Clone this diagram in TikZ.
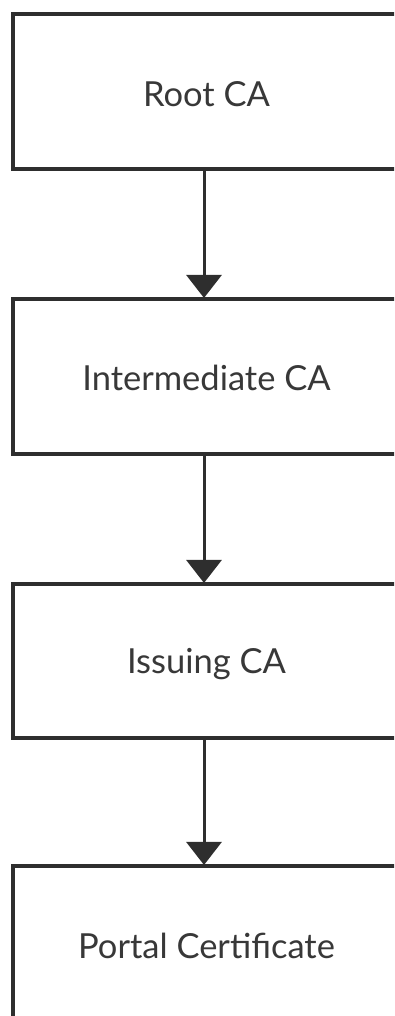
\documentclass[tikz,border=0pt]{standalone}
\usepackage{fontspec}
\setmainfont{Lato}
\usetikzlibrary{arrows.meta}
\definecolor{ink}{HTML}{2E2E2E}
\definecolor{txt}{HTML}{383838}
\tikzset{
  box/.style={draw=ink, line width=4pt, fill=white, rectangle},
  lbl/.style={text=txt, font=\fontsize{34.5}{40}\selectfont, inner sep=0pt},
  conn/.style={draw=ink, line width=3pt, -{Triangle[width=35pt,length=23pt]}, shorten >=-1pt}
}
\begin{document}
\begin{tikzpicture}[x=1pt,y=1pt]
\useasboundingbox (0,0) rectangle (394,1016);
\clip (0,0) rectangle (394,1016);
% y = 1016 - pixel y
\node[box, minimum width=387pt, minimum height=155pt, anchor=north west] (b1) at (11,1004) {};
\node[box, minimum width=387pt, minimum height=155pt, anchor=north west] (b2) at (11,719) {};
\node[box, minimum width=387pt, minimum height=154pt, anchor=north west] (b3) at (11,434) {};
\node[box, minimum width=387pt, minimum height=158pt, anchor=north west] (b4) at (11,152) {};
\node[lbl] (t1) at ([yshift=-3pt]b1.center) {Root CA};
\node[lbl] (t2) at ([yshift=-1.5pt]b2.center) {Intermediate CA};
\node[lbl] (t3) at ([yshift=-3pt]b3.center) {Issuing CA};
\node[lbl] (t4) at ([yshift=-1pt]b4.north |- 0,71) {Portal Certificate};
\draw[conn] (b1.south -| 204,0) -- (b2.north -| 204,0);
\draw[conn] (b2.south -| 204,0) -- (b3.north -| 204,0);
\draw[conn] (b3.south -| 204,0) -- (b4.north -| 204,0);
\end{tikzpicture}
\end{document}
